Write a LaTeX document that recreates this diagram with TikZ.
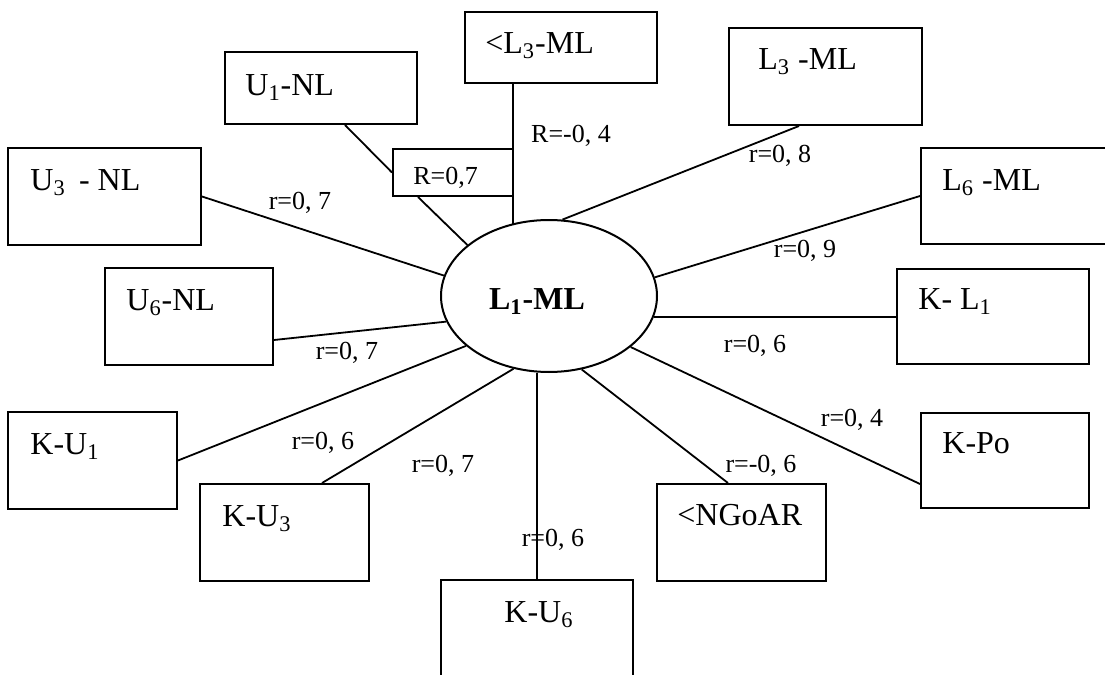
\documentclass[tikz,border=0pt]{standalone}
\usepackage{fontspec}
\setmainfont{Liberation Serif}
\usetikzlibrary{shapes.geometric,calc}
\begin{document}
\begin{tikzpicture}[x=0.5pt,y=-0.5pt,
  box/.style={draw, line width=1pt, inner sep=0pt},
  link/.style={line width=0.9pt},
  boxtext/.style={font=\fontsize{16}{19}\selectfont, inner sep=0pt, anchor=base west},
  coef/.style={font=\fontsize{13}{15}\selectfont, inner sep=0pt, anchor=base},
]
\useasboundingbox (0,0) rectangle (1105,675);
\clip (0,0) rectangle (1105,675);

% central ellipse
\node[draw, ellipse, line width=1pt, inner sep=0pt,
      minimum width=108pt, minimum height=76pt] (c) at (549,296) {};
\node[font=\fontsize{16}{19}\selectfont\bfseries, inner sep=0pt, anchor=base] (ct) at (537,309) {L\textsubscript{1}-ML};

% surrounding boxes
\node[box, minimum width=96pt,   minimum height=36pt]   (u1)  at (321,88) {};
\node[box, minimum width=96pt,   minimum height=35.5pt] (lt)  at (561,47.5) {};
\node[box, minimum width=96.5pt, minimum height=48.5pt] (l3)  at (825.5,76.5) {};
\node[box, minimum width=97pt,   minimum height=48pt]   (l6)  at (1018,196) {};
\node[box, minimum width=96.5pt, minimum height=48.5pt] (u3)  at (104.5,196.5) {};
\node[box, minimum width=84pt,   minimum height=48.5pt] (u6)  at (189,316.5) {};
\node[box, minimum width=84.5pt, minimum height=48.5pt] (ku1) at (92.5,460.5) {};
\node[box, minimum width=84.5pt, minimum height=48.5pt] (ku3) at (284.5,532.5) {};
\node[box, minimum width=96pt,   minimum height=55pt]   (ku6) at (537,635) {};
\node[box, minimum width=84.5pt, minimum height=48.5pt] (ng)  at (741.5,532.5) {};
\node[box, minimum width=84pt,   minimum height=47.5pt] (kpo) at (1005,460.5) {};
\node[box, minimum width=96pt,   minimum height=47.5pt] (kl1) at (993,316.5) {};
\node[box, minimum width=60pt,   minimum height=23.5pt] (r)   at (453,172.5) {};

% box captions
\node[boxtext] (tu1)  at (245,95)  {U\textsubscript{1}-NL};
\node[boxtext] (tlt)  at (485,53)  {<L\textsubscript{3}-ML};
\node[boxtext] (tl3)  at (758,69)  {L\textsubscript{3} -ML};
\node[boxtext] (tl6)  at (942,190) {L\textsubscript{6} -ML};
\node[boxtext] (tu3)  at (30,190)  {U\textsubscript{3} \,- NL};
\node[boxtext] (tu6)  at (126,310) {U\textsubscript{6}-NL};
\node[boxtext] (tku1) at (30,454)  {K-U\textsubscript{1}};
\node[boxtext] (tku3) at (222,526) {K-U\textsubscript{3}};
\node[boxtext] (tku6) at (504,622) {K-U\textsubscript{6}};
\node[boxtext] (tng)  at (677,525) {<NGoAR};
\node[boxtext] (tkpo) at (942,453) {K-Po};
\node[boxtext] (tkl1) at (918,309) {K- L\textsubscript{1}};
\node[coef, anchor=base west] (tr) at (413,184) {R=0,7};

% connectors
\coordinate (vt) at ([xshift=-24pt]lt.south);
\coordinate (kl) at ([yshift=-0.25pt]kl1.west);
\draw[link] (vt) -- (vt |- c.118);
\draw[link] ([xshift=12pt]u1.south) -- (r.west);
\draw[link] ([xshift=-17.5pt]r.south) -- (c.148);
\draw[link] ([xshift=-13.25pt]l3.south) -- (c.80);
\draw[link] (l6.west) -- (c.10.5);
\draw[link] (kl) -- (kl -| c.-11);
\draw[link] ([yshift=-11.75pt]kpo.west) -- (c.328.2);
\draw[link] ([xshift=-6.75pt]ng.north) -- (c.294.7);
\draw[link] (ku6.north) -- (ku6.north |- c.south);
\draw[link] ([xshift=18.75pt]ku3.north) -- (c.244.7);
\draw[link] (ku1.east) -- (c.211.8);
\draw[link] ([yshift=-11.75pt]u6.east) -- (c.194.5);
\draw[link] (u3.east) -- (c.169.4);

% correlation labels
\node[coef] (k1)  at (571,142) {R=-0, 4};
\node[coef] (k2)  at (780,162) {r=0, 8};
\node[coef] (k3)  at (805,257) {r=0, 9};
\node[coef] (k4)  at (755,352) {r=0, 6};
\node[coef] (k5)  at (852,426) {r=0, 4};
\node[coef] (k6)  at (761,472) {r=-0, 6};
\node[coef] (k7)  at (553,546) {r=0, 6};
\node[coef] (k8)  at (443,472) {r=0, 7};
\node[coef] (k9)  at (323,449) {r=0, 6};
\node[coef] (k10) at (347,359) {r=0, 7};
\node[coef] (k11) at (300,209) {r=0, 7};
\end{tikzpicture}
\end{document}
